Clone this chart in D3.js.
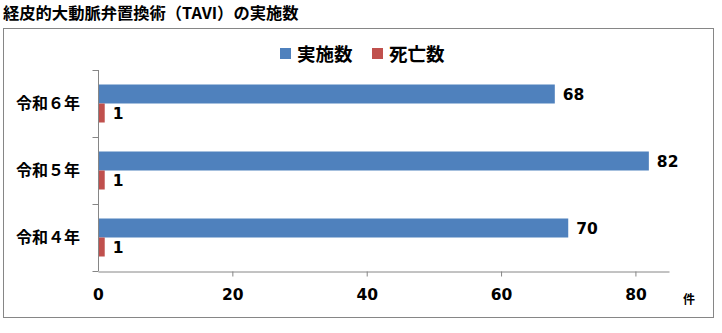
<!DOCTYPE html>
<html><head><meta charset="utf-8">
<script src="https://cdn.jsdelivr.net/npm/d3@7"></script>
<style>body{margin:0;background:#fff;}svg{display:block;}</style>
</head><body>
<svg id="c" width="722" height="333"></svg>
<script>
const categories = ["令和６年", "令和５年", "令和４年"];
const seriesNames = ["実施数", "死亡数"];
const performed = [68, 82, 70];
const deaths = [1, 1, 1];
const xTicks = [0, 20, 40, 60, 80];
const colors = ["#4F81BD", "#C0504D"];

const svg = d3.select("#c");
const jp = "'Noto Sans CJK JP', sans-serif";
const num = "'DejaVu Sans', sans-serif";

svg.append("text").attr("x", 3).attr("y", 19).attr("font-family", jp).attr("font-weight", "bold")
  .attr("font-size", 16.3).attr("fill", "#000").text("経皮的大動脈弁置換術（TAVI）の実施数");

svg.append("rect").attr("x", 3.5).attr("y", 28.5).attr("width", 710).attr("height", 289)
  .attr("fill", "none").attr("stroke", "#868686").attr("stroke-width", 1);

const x = d3.scaleLinear().domain([0, 85]).range([98, 669]);
const y = d3.scaleBand().domain(categories).range([70, 271]);
const inner = d3.scaleBand().domain(seriesNames).range([y.bandwidth() / 2 - 19, y.bandwidth() / 2 + 19]);

const data = categories.map((c, i) => ({c, vals: [performed[i], deaths[i]]}));

const g = svg.append("g");
data.forEach(d => {
  d.vals.forEach((v, j) => {
    const yy = y(d.c) + inner(seriesNames[j]);
    g.append("rect").attr("x", x(0)).attr("y", yy).attr("width", x(v) - x(0))
      .attr("height", inner.bandwidth()).attr("fill", colors[j]);
    g.append("text").attr("x", x(v) + 8).attr("y", yy + inner.bandwidth() / 2)
      .attr("dy", "0.36em").attr("font-family", num).attr("font-weight", "bold")
      .attr("font-size", 15.5).attr("fill", "#000").text(v);
  });
});

// y axis
const ya = svg.append("g").attr("transform", "translate(98.5,0)");
ya.append("line").attr("y1", 70).attr("y2", 271).attr("stroke", "#868686");
const yTickPos = [y.range()[0]].concat(categories.map(c => y(c) + y.bandwidth()));
yTickPos.forEach(t => ya.append("line").attr("x1", -6).attr("x2", 0)
  .attr("y1", Math.round(t) + 0.5).attr("y2", Math.round(t) + 0.5).attr("stroke", "#868686"));
categories.forEach(c => {
  svg.append("text").attr("x", 80).attr("y", y(c) + y.bandwidth() / 2).attr("dy", "0.36em")
    .attr("text-anchor", "end").attr("font-family", jp).attr("font-weight", "bold")
    .attr("font-size", 16).attr("fill", "#000").text(c);
});

// x axis
const xa = svg.append("g").attr("transform", "translate(0,271.5)")
  .call(d3.axisBottom(x).tickValues(xTicks).tickSize(5).tickSizeOuter(0).tickPadding(12));
xa.select(".domain").attr("stroke", "#868686");
xa.selectAll(".tick line").attr("stroke", "#868686");
xa.selectAll(".tick text").attr("font-family", num).attr("font-weight", "bold")
  .attr("font-size", 15.5).attr("fill", "#000");
xa.selectAll(".tick").filter(d => d === 0).select("line").remove();

svg.append("text").attr("x", 683).attr("y", 304).attr("font-family", jp).attr("font-weight", "bold")
  .attr("font-size", 12).attr("fill", "#000").text("件");

// legend
const lx = [280, 372];
seriesNames.forEach((s, i) => {
  svg.append("rect").attr("x", lx[i]).attr("y", 48).attr("width", 11).attr("height", 11).attr("fill", colors[i]);
  svg.append("text").attr("x", lx[i] + 17).attr("y", 54).attr("dy", "0.36em").attr("font-family", jp)
    .attr("font-weight", "bold").attr("font-size", 18.5).attr("fill", "#000").text(s);
});
</script>
</body></html>
